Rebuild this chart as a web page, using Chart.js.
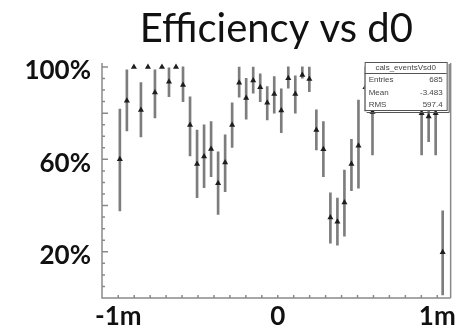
<!DOCTYPE html>
<html>
<head>
<meta charset="utf-8">
<script src="https://cdn.jsdelivr.net/npm/chart.js@4"></script>
<style>
  html, body { margin: 0; padding: 0; background: #fff; }
  #wrap { width: 459px; height: 328px; }
</style>
</head>
<body>
<div id="wrap"><canvas id="effChart"></canvas></div>
<script>
// bin centres along d0 (axis in m)
const d0 = [
  -0.990, -0.946, -0.902, -0.858, -0.814, -0.770, -0.726, -0.682, -0.638, -0.594,
  -0.550, -0.506, -0.462, -0.418, -0.374, -0.330, -0.286, -0.242, -0.198, -0.154,
  -0.110, -0.066, -0.022, 0.022, 0.066, 0.110, 0.154, 0.198, 0.242, 0.286,
  0.330, 0.374, 0.418, 0.462, 0.506, 0.550, 0.594,
  0.902, 0.946, 0.990, 1.034
];
// efficiency per bin, in %
const eff = [
  60.0, 85.4, 100, 81.4, 100, 88.9, 100, 93.6, 100, 92.2,
  74.9, 58.0, 61.2, 64.5, 49.7, 58.6, 74.9, 93.2, 86.5, 94.1,
  91.2, 84.5, 88.3, 81.1, 95.1, 88.3, 96.5, 94.8, 72.7, 64.4,
  34.8, 33.0, 41.3, 58.0, 65.9, 91.2, 80.5,
  80.0, 78.5, 80.0, 19.8
];
// lower / upper ends of the error bars
const effLow = [
  37.7, 72.3, 100, 69.7, 100, 77.9, 100, 87.1, 100, 85.0,
  61.5, 43.4, 47.7, 52.5, 36.2, 46.0, 65.2, 86.9, 77.4, 88.6,
  85.0, 77.1, 80.0, 71.6, 90.8, 80.0, 95.1, 89.3, 64.1, 52.5,
  23.7, 22.9, 26.8, 46.5, 47.5, 81.0, 61.9,
  61.9, 67.7, 61.9, 1.3
];
const effHigh = [
  81.8, 98.7, 100, 93.2, 100, 98.7, 100, 99.6, 100, 100,
  87.1, 72.7, 74.9, 76.3, 63.3, 70.6, 84.5, 99.9, 95.1, 99.9,
  97.0, 91.5, 95.8, 90.5, 100, 96.1, 100, 99.9, 81.4, 76.3,
  45.5, 43.2, 55.4, 68.7, 85.7, 100, 97.0,
  97.0, 89.3, 97.0, 37.7
];

const yLabelTicks = [20, 60, 100];
const xLabelTicks = [-1, 0, 1];
const statsTitle = 'cals_eventsVsd0';
const statsNames = ['Entries', 'Mean', 'RMS'];
const statsValues = ['685', '-3.483', '597.4'];

const markers = d0.map((x, i) => ({ x: x, y: eff[i] }));
const errBars = d0.map((x, i) => ({ x: x, y: [effLow[i], effHigh[i]] }));

// axis lines, inward tick marks and the stats box
const frameAndStats = {
  id: 'frameAndStats',
  afterDatasetsDraw(chart) {
    const { ctx, chartArea: a, scales } = chart;
    const x = scales.x, y = scales.y;
    ctx.save();
    ctx.strokeStyle = '#8a8a8a';
    ctx.lineWidth = 1.5;
    ctx.beginPath();
    ctx.moveTo(a.left, a.top);
    ctx.lineTo(a.left, a.bottom);
    ctx.lineTo(a.right, a.bottom);
    ctx.moveTo(a.right, a.top);
    ctx.lineTo(a.right, a.bottom);
    for (let v = 0; v <= 100; v += 5) {
      const py = y.getPixelForValue(v);
      const len = v % 20 === 0 ? 6 : 3;
      ctx.moveTo(a.left, py);
      ctx.lineTo(a.left + len, py);
    }
    for (let t = -10; t <= 10; t++) {
      const px = x.getPixelForValue(t / 10);
      ctx.moveTo(px, a.bottom);
      ctx.lineTo(px, a.bottom - 3);
    }
    ctx.stroke();

    // stats box
    const bx = a.right - 86, by = a.top - 1, bw = 82, bh = 48;
    ctx.fillStyle = '#fff';
    ctx.fillRect(bx, by, bw, bh);
    ctx.strokeStyle = '#555';
    ctx.lineWidth = 1;
    ctx.strokeRect(bx + 0.5, by + 0.5, bw, bh);
    ctx.beginPath();
    ctx.moveTo(bx + bw + 2.5, by + 2);
    ctx.lineTo(bx + bw + 2.5, by + bh + 2.5);
    ctx.lineTo(bx + 2, by + bh + 2.5);
    ctx.moveTo(bx, by + 11.5);
    ctx.lineTo(bx + bw, by + 11.5);
    ctx.stroke();
    ctx.fillStyle = '#444';
    ctx.font = '8px "Liberation Sans"';
    ctx.textBaseline = 'middle';
    ctx.textAlign = 'center';
    ctx.fillText(statsTitle, bx + bw / 2, by + 6);
    statsNames.forEach((n, i) => {
      const ty = by + 18 + i * 12.5;
      ctx.textAlign = 'left';
      ctx.fillText(n, bx + 4, ty);
      ctx.textAlign = 'right';
      ctx.fillText(statsValues[i], bx + bw - 4, ty);
    });
    ctx.restore();
  }
};

new Chart(document.getElementById('effChart'), {
  type: 'bar',
  data: {
    datasets: [
      {
        type: 'line',
        data: markers,
        showLine: false,
        pointStyle: 'triangle',
        pointRadius: 3.5,
        pointBackgroundColor: '#1e1e1e',
        pointBorderColor: '#1e1e1e',
        pointBorderWidth: 0,
        order: 0
      },
      {
        type: 'bar',
        data: errBars,
        backgroundColor: '#7d7d7d',
        borderWidth: 0,
        barThickness: 2,
        order: 1
      }
    ]
  },
  options: {
    responsive: true,
    maintainAspectRatio: false,
    animation: false,
    layout: { padding: { top: 0, right: 4, bottom: 0, left: 0 } },
    plugins: {
      legend: { display: false },
      tooltip: { enabled: false },
      title: {
        display: true,
        text: 'Efficiency vs d0',
        fullSize: false,
        color: '#111',
        font: { family: 'Lato', size: 40, weight: 'normal' },
        padding: { top: 5, bottom: 10 }
      }
    },
    scales: {
      x: {
        type: 'linear',
        min: -1.102,
        max: 1.084,
        offset: false,
        grid: { display: false, drawTicks: false },
        border: { display: false },
        afterBuildTicks: (axis) => { axis.ticks = xLabelTicks.map(v => ({ value: v })); },
        afterFit: (axis) => { axis.height = 30; },
        ticks: {
          color: '#111',
          padding: 3,
          maxRotation: 0,
          font: { family: 'Lato', size: 26, weight: 'bold' },
          callback: (v) => v === 0 ? '0' : v + 'm'
        }
      },
      y: {
        type: 'linear',
        min: 0,
        max: 101.7,
        grid: { display: false, drawTicks: false },
        border: { display: false },
        afterBuildTicks: (axis) => { axis.ticks = yLabelTicks.map(v => ({ value: v })); },
        afterFit: (axis) => { axis.width = 102; },
        ticks: {
          color: '#111',
          padding: 11,
          labelOffset: 4,
          font: { family: 'Lato', size: 26, weight: 'bold' },
          callback: (v) => v + '%'
        }
      }
    }
  },
  plugins: [frameAndStats]
});
</script>
</body>
</html>
